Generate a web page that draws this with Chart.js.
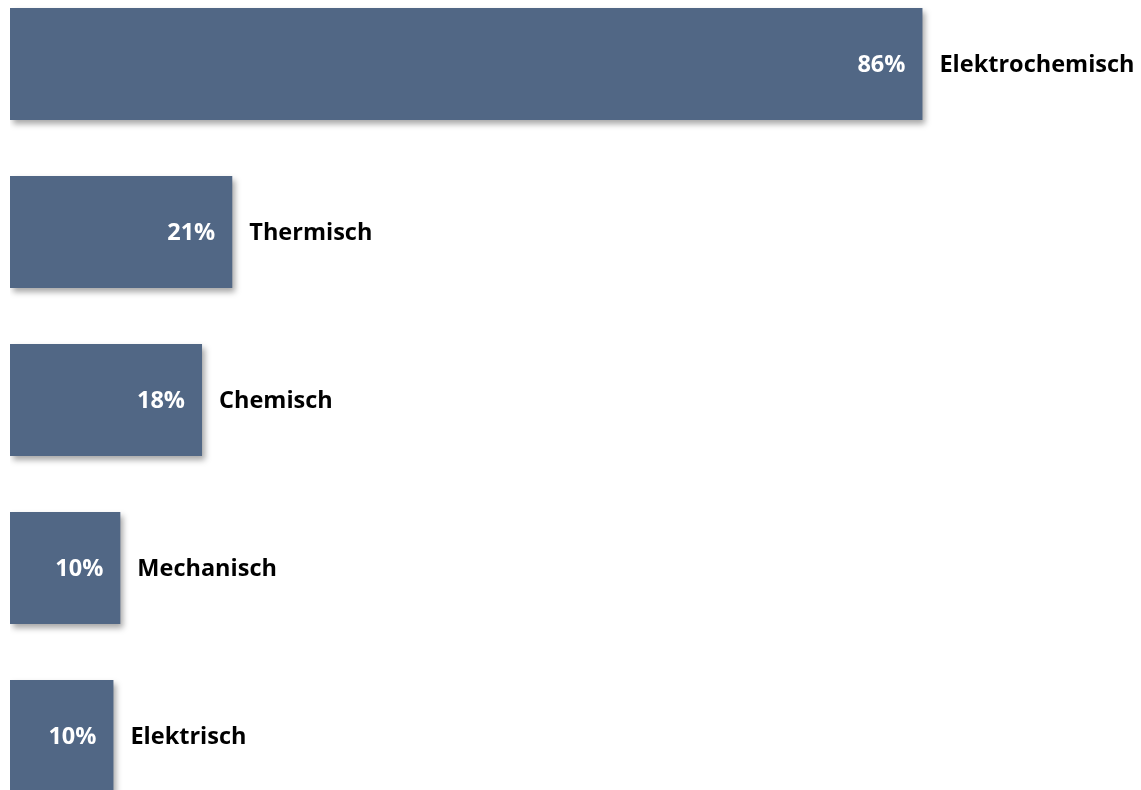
<!DOCTYPE html>
<html>
<head>
<meta charset="utf-8">
<script src="https://cdn.jsdelivr.net/npm/chart.js@4"></script>
<style>
html,body{margin:0;padding:0;background:#fff;overflow:hidden;width:1141px;height:790px;}
#wrap{position:absolute;left:0;top:-20px;width:1141px;height:840px;}
</style>
</head>
<body>
<div id="wrap"><canvas id="c" width="1141" height="840"></canvas></div>
<script>
const categories = ["Elektrochemisch", "Thermisch", "Chemisch", "Mechanisch", "Elektrisch"];
const values = [86.0, 20.95, 18.1, 10.4, 9.75];
const valueLabels = ["86%", "21%", "18%", "10%", "10%"];

const barColor = "#516785";
const font = '"Open Sans", "Noto Sans", sans-serif';

const shadowPlugin = {
  id: 'shadow',
  beforeDatasetsDraw(chart) {
    const ctx = chart.ctx;
    ctx.save();
    ctx.shadowColor = 'rgba(0,0,0,0.35)';
    ctx.shadowBlur = 6;
    ctx.shadowOffsetX = 3;
    ctx.shadowOffsetY = 4;
  },
  afterDatasetsDraw(chart) {
    chart.ctx.restore();
  }
};

const labelPlugin = {
  id: 'barLabels',
  afterDraw(chart) {
    const ctx = chart.ctx;
    const meta = chart.getDatasetMeta(0);
    ctx.save();
    ctx.font = 'bold 23.5px ' + font;
    ctx.textBaseline = 'middle';
    meta.data.forEach((bar, i) => {
      ctx.fillStyle = '#ffffff';
      ctx.textAlign = 'right';
      ctx.fillText(valueLabels[i], bar.x - 17, bar.y + 1);
      ctx.fillStyle = '#000000';
      ctx.textAlign = 'left';
      ctx.fillText(categories[i], bar.x + 17, bar.y + 1);
    });
    ctx.restore();
  }
};

new Chart(document.getElementById('c'), {
  type: 'bar',
  data: {
    labels: categories,
    datasets: [{
      data: values,
      backgroundColor: barColor,
      borderWidth: 0,
      barPercentage: 1,
      categoryPercentage: 112/168
    }]
  },
  options: {
    indexAxis: 'y',
    responsive: false,
    animation: false,
    layout: { padding: { left: 10, right: 70, top: 0, bottom: 0 } },
    plugins: { legend: { display: false }, tooltip: { enabled: false } },
    scales: {
      x: { display: false, min: 0, max: 100 },
      y: { display: false }
    }
  },
  plugins: [shadowPlugin, labelPlugin]
});
</script>
</body>
</html>
